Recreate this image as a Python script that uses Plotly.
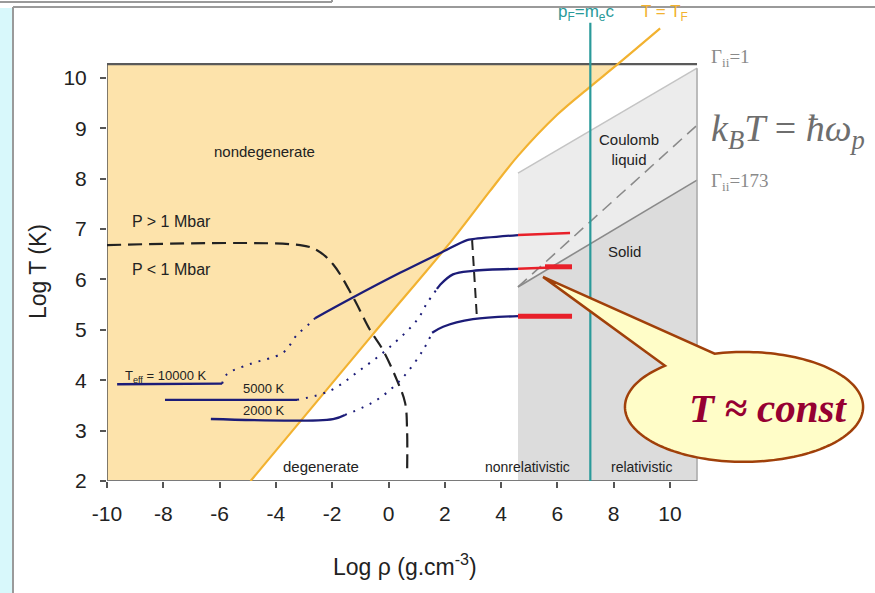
import numpy as np
import plotly.graph_objects as go

# ---------------- data (log rho [g/cm3], log T [K]) ----------------
# T = T_F (degeneracy border)
tf_x = [-4.9, -0.6, 2.26, 3.6, 4.6, 6.0, 7.16, 8.1, 9.65]
tf_y = [2.0, 4.88, 6.78, 7.75, 8.45, 9.27, 9.82, 10.25, 10.98]

# P = 1 Mbar border
mbar_x = [-10, -3.14, -2.54, -1.97, -1.26, -0.66, -0.20, 0.30, 0.59, 0.66, 0.66]
mbar_y = [6.68, 6.68, 6.58, 6.30, 5.65, 5.00, 4.60, 4.00, 3.55, 3.01, 2.12]

# cooling tracks
t10_a_x = [-9.64, -5.91]
t10_a_y = [3.92, 3.93]
t10_dot_x = [-5.91, -5.74, -4.92, -3.74, -3.25, -2.79, -2.61]
t10_dot_y = [3.93, 4.12, 4.32, 4.55, 4.90, 5.13, 5.23]
t10_b_x = [-2.61, -1.30, 0.41, 1.83, 2.79, 3.0, 4.6]
t10_b_y = [5.23, 5.63, 6.13, 6.52, 6.78, 6.80, 6.88]
t10_red_x = [4.6, 6.45]
t10_red_y = [6.88, 6.92]

t5_a_x = [-7.94, -3.25]
t5_a_y = [3.61, 3.61]
t5_dot_x = [-3.25, -2.08, -1.01, 0.05, 1.01, 1.37, 1.72]
t5_dot_y = [3.61, 3.79, 4.20, 4.66, 5.19, 5.53, 5.81]
t5_b_x = [1.72, 1.83, 2.29, 3.0, 4.6]
t5_b_y = [5.81, 5.89, 6.10, 6.17, 6.21]
t5_red_thin_x = [4.6, 5.56]
t5_red_thin_y = [6.21, 6.23]
t5_red_thick_x = [5.56, 6.52]
t5_red_thick_y = [6.25, 6.25]

t2_a_x = [-6.31, -1.97, -1.55]
t2_a_y = [3.23, 3.23, 3.31]
t2_dot_x = [-1.55, -0.41, 0.52, 1.23, 1.55]
t2_dot_y = [3.31, 3.61, 4.06, 4.60, 4.94]
t2_b_x = [1.55, 1.94, 3.0, 4.6]
t2_b_y = [4.94, 5.06, 5.21, 5.27]
t2_red_x = [4.6, 6.52]
t2_red_y = [5.27, 5.27]

conn_x = [2.97, 3.14]
conn_y = [6.78, 5.25]

# Coulomb plasma region
nr_x0, region_x1 = 4.6, 10.96
gamma1_x = [4.6, 10.96]
gamma1_y = [8.11, 10.19]
gamma173_x = [4.6, 10.96]
gamma173_y = [5.85, 7.97]
plasma_x = [4.6, 10.96]
plasma_y = [5.85, 9.06]
pf_x = 7.17
pf_top = 11.09

x_ticks = [-10, -8, -6, -4, -2, 0, 2, 4, 6, 8, 10]
y_ticks = [2, 3, 4, 5, 6, 7, 8, 9, 10]

# ---------------- geometry ----------------
X0, X1 = -10, 17.105
Y0, Y1 = 2, 11.444
BOX_TOP = 10.27
ML, MR, MT, MB = 107, 5, 5, 112
W, H = 875, 593
PW, PH = W - ML - MR, H - MT - MB


def pxp(px):
    return (px - ML) / PW


def pyp(py):
    return (H - MB - py) / PH


NAVY = "#1c1c78"
RED = "#e8202a"
ORANGE = "#f2b230"
TEAL = "#2a9a9a"
PEACH = "#fde3ab"

fig = go.Figure()


def add_line(x, y, color, width, dash="solid", shape="linear"):
    fig.add_trace(go.Scatter(x=x, y=y, mode="lines",
                             line=dict(color=color, width=width, dash=dash, shape=shape),
                             hoverinfo="skip", showlegend=False))


def add_fill(x, y, color):
    fig.add_trace(go.Scatter(x=x, y=y, mode="lines", fill="toself", fillcolor=color,
                             line=dict(width=0), hoverinfo="skip", showlegend=False))


# peach nondegenerate region (left of T=T_F, inside box)
xc = float(np.interp(BOX_TOP, tf_y, tf_x))
px_ = [X0] + [x for x, y in zip(tf_x, tf_y) if y < BOX_TOP] + [xc, X0]
py_ = [Y0] + [y for y in tf_y if y < BOX_TOP] + [BOX_TOP, BOX_TOP]
add_fill(px_, py_, PEACH)

# gray regions
add_fill([nr_x0, nr_x0, region_x1, region_x1], [Y0, gamma1_y[0], gamma1_y[1], Y0], "#ececec")
add_fill([nr_x0, nr_x0, region_x1, region_x1], [Y0, gamma173_y[0], gamma173_y[1], Y0], "#dcdcdc")
add_line(gamma1_x, gamma1_y, "#c4c4c4", 1.5)
add_line(gamma173_x, gamma173_y, "#8a8a8a", 1.6)
add_line(plasma_x, plasma_y, "#8a8a8a", 1.6, dash="12px,7px")
add_line([region_x1, region_x1], [Y0, gamma1_y[1]], "#a8a8a8", 1.5)

# box border lines
add_line([X0, region_x1], [BOX_TOP, BOX_TOP], "#5a5a5a", 2.2)
add_line([X0, X0], [Y0, BOX_TOP], "#555555", 1.5)
add_line([X0, region_x1], [Y0, Y0], "#7a7a7a", 2)

# T = T_F and p_F = m_e c
add_line(tf_x, tf_y, ORANGE, 2.2, shape="spline")
add_line([pf_x, pf_x], [Y0, pf_top], TEAL, 2.2)

# P = 1 Mbar
add_line(mbar_x, mbar_y, "#222222", 2.2, dash="14px,7px", shape="spline")

# tracks
for xs, ys in [(t10_a_x, t10_a_y), (t10_b_x, t10_b_y), (t5_a_x, t5_a_y), (t5_b_x, t5_b_y),
               (t2_a_x, t2_a_y), (t2_b_x, t2_b_y)]:
    add_line(xs, ys, NAVY, 2.3, shape="spline")
for xs, ys in [(t10_dot_x, t10_dot_y), (t5_dot_x, t5_dot_y), (t2_dot_x, t2_dot_y)]:
    add_line(xs, ys, NAVY, 2.0, dash="2px,7px", shape="spline")
add_line(conn_x, conn_y, "#222222", 2, dash="10px,6px")
add_line(t10_red_x, t10_red_y, RED, 2.5)
add_line(t5_red_thin_x, t5_red_thin_y, RED, 2.5)
add_line(t5_red_thick_x, t5_red_thick_y, RED, 5)
add_line(t2_red_x, t2_red_y, RED, 5)

# ---------------- callout ----------------
cx, cy, rx, ry = 12.63, 3.47, 4.23, 1.09
tip = (5.49, 6.05)
t = np.linspace(np.deg2rad(104.3), np.deg2rad(131.6 - 360), 160)
ex = cx + rx * np.cos(t)
ey = cy + ry * np.sin(t)
path = f"M {ex[-1]:.4f},{ey[-1]:.4f} L {tip[0]},{tip[1]} L {ex[0]:.4f},{ey[0]:.4f} "
path += " ".join(f"L {a:.4f},{b:.4f}" for a, b in zip(ex[1:], ey[1:])) + " Z"

shapes = [
    dict(type="path", path=path, xref="x", yref="y", fillcolor="#fffdc8",
         line=dict(color="#a0400a", width=2.5), layer="above"),
    # slide decorations
    dict(type="rect", xref="paper", yref="paper", x0=pxp(0), x1=pxp(12), y0=pyp(8), y1=pyp(593),
         fillcolor="#d8f8fb", line=dict(width=0), layer="below"),
    dict(type="line", xref="paper", yref="paper", x0=pxp(13), x1=pxp(13), y0=pyp(7), y1=pyp(593),
         line=dict(color="#9a9a9a", width=2)),
    dict(type="line", xref="paper", yref="paper", x0=pxp(13), x1=pxp(875), y0=pyp(7), y1=pyp(7),
         line=dict(color="#9a9a9a", width=2)),
    dict(type="line", xref="paper", yref="paper", x0=pxp(0), x1=pxp(332), y0=pyp(2), y1=pyp(2),
         line=dict(color="#9a9a9a", width=2)),
    dict(type="line", xref="paper", yref="paper", x0=pxp(332), x1=pxp(332), y0=pyp(0), y1=pyp(2),
         line=dict(color="#9a9a9a", width=2)),
]

SANS = "Arial, Liberation Sans, sans-serif"
SERIF = "Times New Roman, Liberation Serif, serif"


def ann(text, x, y, size, color="#222222", family=SANS, xanchor="center", angle=0):
    return dict(text=text, x=x, y=y, xref="x", yref="y", showarrow=False,
                font=dict(size=size, color=color, family=family), xanchor=xanchor,
                yanchor="middle", textangle=angle)


def pann(text, px, py, size, angle=0):
    return dict(text=text, x=pxp(px), y=pyp(py), xref="paper", yref="paper", showarrow=False,
                font=dict(size=size, color="#222222", family=SANS), xanchor="center",
                yanchor="middle", textangle=angle)


annotations = [
    ann("nondegenerate", -4.39, 8.53, 15),
    ann("P &gt; 1 Mbar", -9.18, 7.14, 16, xanchor="left"),
    ann("P &lt; 1 Mbar", -9.18, 6.19, 16, xanchor="left"),
    ann("T<sub>eff</sub> = 10000 K", -9.43, 4.08, 13, xanchor="left"),
    ann("5000 K", -4.42, 3.83, 13),
    ann("2000 K", -4.42, 3.39, 13),
    ann("degenerate", -2.40, 2.28, 15),
    ann("nonrelativistic", 4.95, 2.27, 14),
    ann("relativistic", 9.0, 2.27, 14),
    ann("Coulomb<br>liquid", 8.54, 8.57, 15),
    ann("Solid", 8.37, 6.56, 15),
    ann("Γ<sub>ii</sub>=1", 11.37, 10.39, 19, color="#8a8a8a", family=SERIF, xanchor="left"),
    ann("Γ<sub>ii</sub>=173", 11.37, 7.93, 19, color="#8a8a8a", family=SERIF, xanchor="left"),
    ann("<i>k<sub>B</sub>T</i> = <i>ħω<sub>p</sub></i>", 11.4, 8.95, 38, color="#6e6e6e",
        family=SERIF, xanchor="left"),
    ann("p<sub>F</sub>=m<sub>e</sub>c", 7.0, 11.29, 17, color=TEAL),
    ann("T = T<sub>F</sub>", 9.82, 11.29, 17, color=ORANGE),
    ann("<b><i>T ≈ const</i></b>", 13.5, 3.45, 41, color="#960032", family=SERIF),
    pann("Log T (K)", 38, 272, 23, angle=-90),
    pann("Log ρ (g.cm<sup>-3</sup>)", 405, 565, 23),
]

fig.update_layout(
    width=W, height=H, autosize=False,
    margin=dict(l=ML, r=MR, t=MT, b=MB, pad=0),
    paper_bgcolor="white", plot_bgcolor="white",
    shapes=shapes, annotations=annotations, showlegend=False,
    xaxis=dict(range=[X0, X1], tickvals=x_ticks, ticktext=[str(v) for v in x_ticks],
               ticks="outside", ticklen=6, tickwidth=1.5, tickcolor="#555555",
               showgrid=False, zeroline=False, showline=False,
               tickfont=dict(size=21, color="#222222", family=SANS), ticklabelstandoff=8),
    yaxis=dict(range=[Y0, Y1], tickvals=y_ticks, ticktext=[str(v) for v in y_ticks],
               ticks="outside", ticklen=6, tickwidth=1.5, tickcolor="#555555",
               showgrid=False, zeroline=False, showline=False,
               tickfont=dict(size=21, color="#222222", family=SANS), ticklabelstandoff=9),
)

fig.write_html("out.html", config={"displayModeBar": False},
               post_script="document.body.style.margin='0px';")
